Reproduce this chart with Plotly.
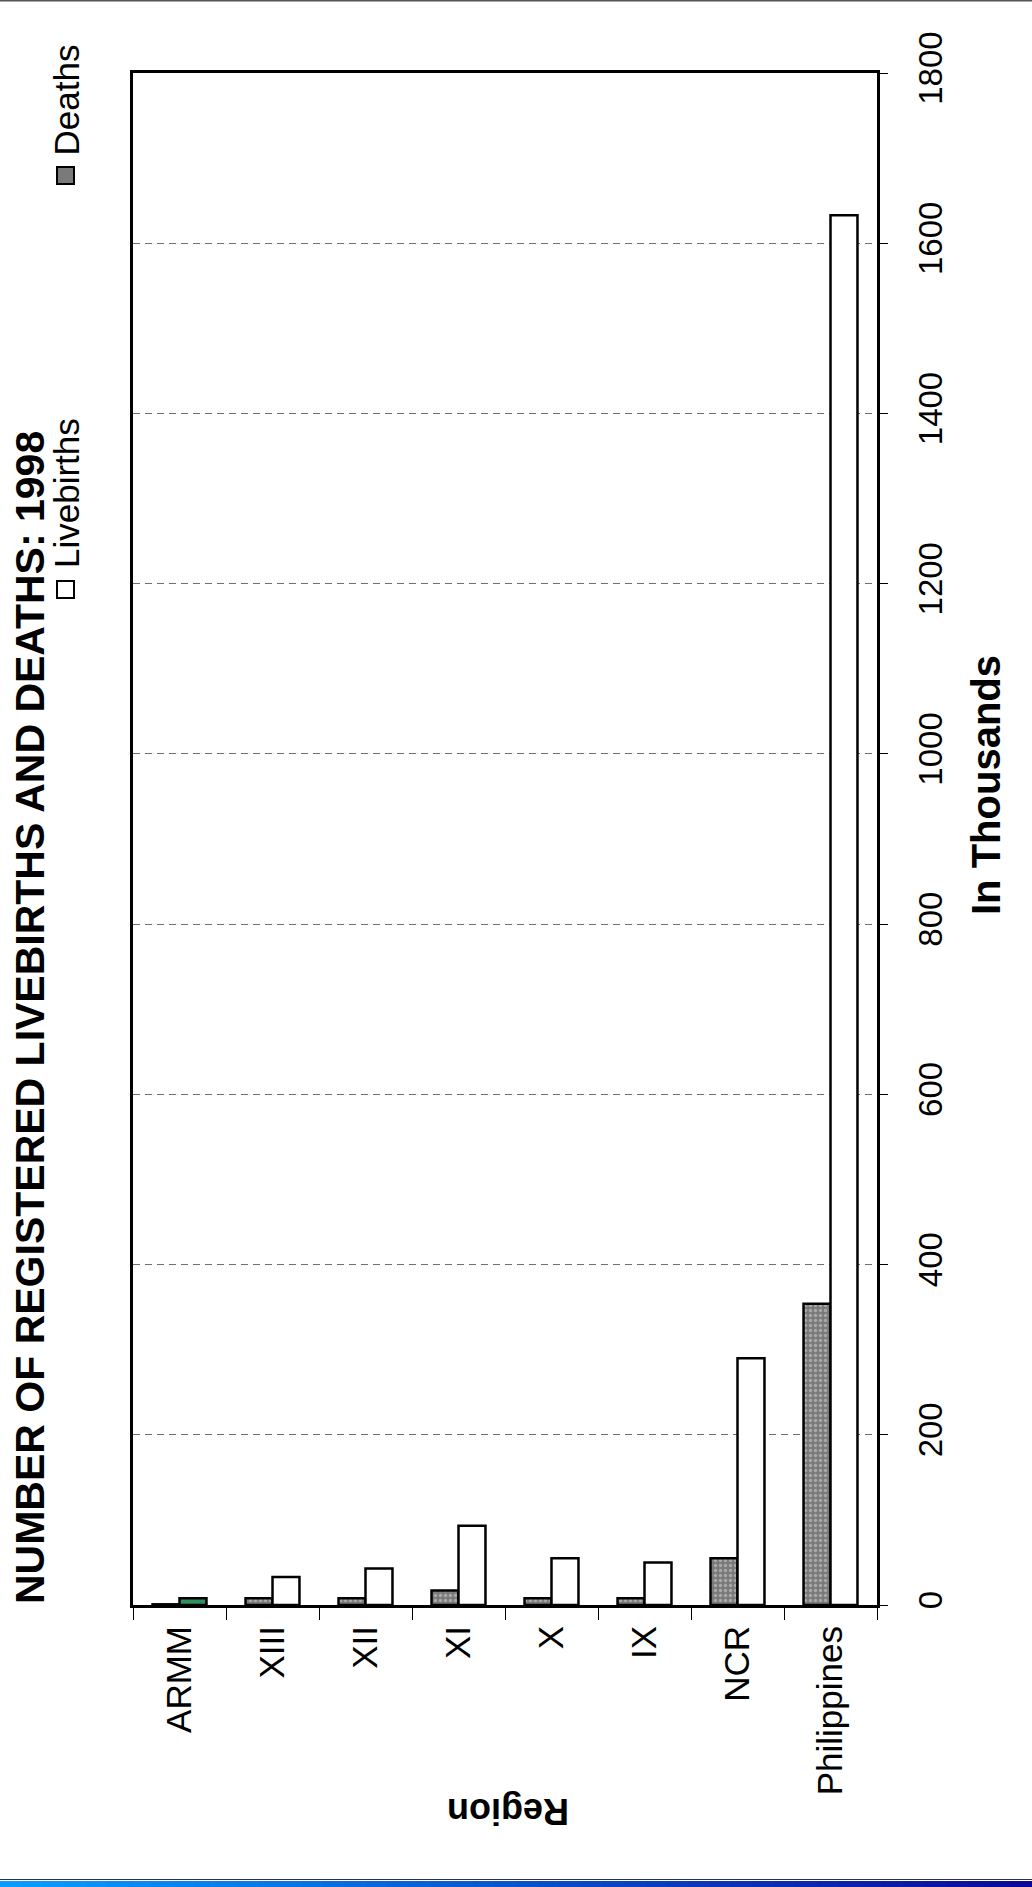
import plotly.graph_objects as go

regions = ["ARMM", "XIII", "XII", "XI", "X", "IX", "NCR", "Philippines"]
deaths = [0.8, 8, 8, 17, 8, 8, 55, 354]
livebirths = [8, 33, 43, 93, 55, 50, 290, 1633]
livebirth_colors = ["#2f8f5f", "white", "white", "white", "white", "white", "white", "white"]
value_ticks = [0, 200, 400, 600, 800, 1000, 1200, 1400, 1600, 1800]

W, H = 1032, 1887
ML, MR, MT, MB = 133, 155, 73, 282
PW, PH = W - ML - MR, H - MT - MB


def px(x):
    return (x - ML) / PW


def py(y):
    return (H - MB - y) / PH


fig = go.Figure()
fig.add_trace(go.Bar(
    x=regions, y=deaths, name="Deaths",
    marker=dict(color="#7a7a7a", line=dict(color="black", width=2.5),
                pattern=dict(shape=".", fgcolor="#d8d8d8", bgcolor="#7a7a7a", size=5, solidity=0.35)),
))
fig.add_trace(go.Bar(
    x=regions, y=livebirths, name="Livebirths",
    marker=dict(color=livebirth_colors, line=dict(color="black", width=2.5)),
))

font_family = "Arial, Liberation Sans, sans-serif"

fig.update_layout(
    width=W, height=H,
    margin=dict(l=ML, r=MR, t=MT, b=MB, autoexpand=False),
    paper_bgcolor="white", plot_bgcolor="white",
    barmode="group", bargap=0.42, bargroupgap=0,
    showlegend=False,
    font=dict(family=font_family, color="black"),
    xaxis=dict(
        tickangle=-90, tickfont=dict(size=35, family=font_family),
        ticks="outside", ticklen=12, tickcolor="black", tickwidth=1,
        tickson="boundaries", ticklabelstandoff=4,
        showline=True, linecolor="black", linewidth=3, mirror=True,
        showgrid=False,
    ),
    yaxis=dict(
        range=[0, 1800], tickvals=value_ticks, side="right",
        tickangle=-90, tickfont=dict(size=33, family=font_family),
        ticks="outside", ticklen=8, tickcolor="black", tickwidth=1,
        ticklabelstandoff=14,
        showline=True, linecolor="black", linewidth=3, mirror=True,
        showgrid=True, gridcolor="#707070", gridwidth=1, griddash="7px,5px",
        zeroline=False,
    ),
)

annotations = [
    dict(text="<b>NUMBER OF REGISTERED LIVEBIRTHS AND DEATHS: 1998</b>",
         x=px(30), y=py(1018), xref="paper", yref="paper", textangle=-90,
         xanchor="center", yanchor="middle", showarrow=False,
         font=dict(size=41, family=font_family)),
    dict(text="Livebirths", x=px(66), y=py(570), xref="paper", yref="paper",
         textangle=-90, xanchor="center", yanchor="bottom", showarrow=False,
         font=dict(size=35, family=font_family)),
    dict(text="Deaths", x=px(66), y=py(158), xref="paper", yref="paper",
         textangle=-90, xanchor="center", yanchor="bottom", showarrow=False,
         font=dict(size=35, family=font_family)),
    dict(text="<b>In Thousands</b>", x=px(986), y=py(785), xref="paper", yref="paper",
         textangle=-90, xanchor="center", yanchor="middle", showarrow=False,
         font=dict(size=40, family=font_family)),
    dict(text="<b>Region</b>", x=px(508), y=py(1812), xref="paper", yref="paper",
         textangle=180, xanchor="center", yanchor="middle", showarrow=False,
         font=dict(size=36, family=font_family)),
]
fig.update_layout(annotations=annotations)

shapes = [
    # legend swatches
    dict(type="rect", xref="paper", yref="paper", x0=px(57), x1=px(74), y0=py(598), y1=py(581),
         line=dict(color="black", width=2), fillcolor="white"),
    dict(type="rect", xref="paper", yref="paper", x0=px(57), x1=px(74), y0=py(184), y1=py(167),
         line=dict(color="black", width=2), fillcolor="#7a7a7a"),
    # top page line
    dict(type="line", xref="paper", yref="paper", x0=px(0), x1=px(W), y0=py(0.75), y1=py(0.75),
         line=dict(color="#555555", width=1.5)),
    # bottom line
    dict(type="line", xref="paper", yref="paper", x0=px(0), x1=px(W), y0=py(1879.5), y1=py(1879.5),
         line=dict(color="#333333", width=1)),
]

# bottom blue gradient band
c0 = (10, 156, 255)
c1 = (10, 10, 150)
n = 48
for i in range(n):
    t = i / (n - 1)
    col = tuple(int(round(a + (b - a) * t)) for a, b in zip(c0, c1))
    shapes.append(dict(type="rect", xref="paper", yref="paper",
                       x0=px(W * i / n), x1=px(W * (i + 1) / n + 0.5),
                       y0=py(H), y1=py(1881),
                       line=dict(width=0), fillcolor="rgb(%d,%d,%d)" % col, layer="above"))
fig.update_layout(shapes=shapes)

fig.write_html("out.html", config={"displayModeBar": False},
               post_script="document.body.style.margin='0';")
